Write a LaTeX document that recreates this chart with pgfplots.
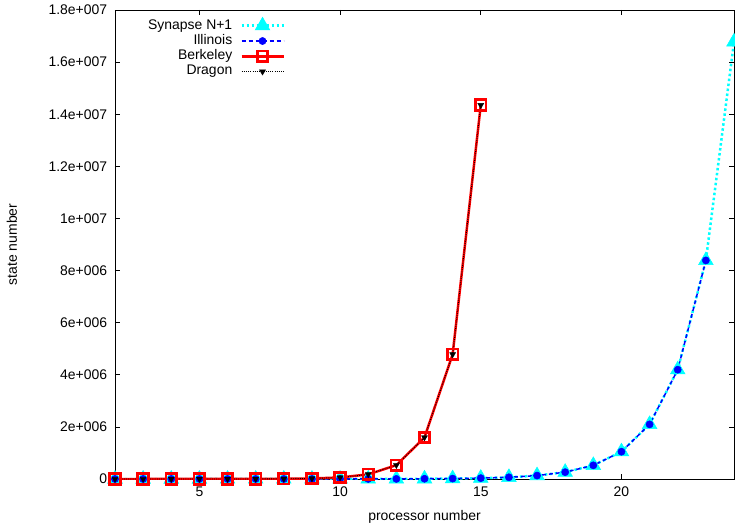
\documentclass[border=0pt]{standalone}
\usepackage{fontspec}
\setmainfont{Liberation Sans}
\usepackage{pgfplots}
\pgfplotsset{compat=1.18}
\definecolor{cy}{RGB}{0,255,255}
\definecolor{bl}{RGB}{0,0,255}
\definecolor{rd}{RGB}{255,0,0}
\begin{document}
\fontsize{14}{16.8}\selectfont
\begin{tikzpicture}
\begin{axis}[
  scale only axis, width=619bp, height=469bp,
  xmin=2, xmax=24, ymin=0, ymax=1.8e7,
  xtick={5,10,15,20}, xticklabels={5,10,15,20},
  ytick={0,2e6,4e6,6e6,8e6,1e7,1.2e7,1.4e7,1.6e7,1.8e7},
  yticklabels={0,2e+006,4e+006,6e+006,8e+006,1e+007,1.2e+007,1.4e+007,1.6e+007,1.8e+007},
  scaled y ticks=false, scaled x ticks=false,
  tick align=inside, major tick length=5bp, tick style={black, line width=0.6bp},
  axis line style={line width=0.8bp},
  xlabel={processor number}, ylabel={state number},
  xlabel style={at={(axis description cs:0.5,-0.081)}, anchor=center},
  ylabel style={at={(axis description cs:-0.1664,0.5)}, anchor=center, rotate=0},
  yticklabel style={xshift=-3bp},
  xticklabel style={yshift=-3bp},
  legend cell align=right, legend plot pos=right,
  legend style={draw=none, fill=none, at={(axis description cs:0.2746,0.985)}, anchor=north east,
    row sep=0pt, inner sep=0pt, nodes={inner sep=1bp, text height=10bp, text depth=3.3bp}},
  legend image code/.code={\path (0bp,0bp); \draw[mark repeat=2,mark phase=2] plot coordinates {(7bp,0bp)(28bp,0bp)(49bp,0bp)};},
]
\coordinate (sw) at (rel axis cs:0,0);
\coordinate (ne) at (rel axis cs:1,1);
\addplot[cy, line width=2.5bp, dash pattern=on 2.5bp off 2.5bp, mark=triangle*, mark size=8.5bp, mark options={solid, fill=cy, line width=0.5bp}] coordinates {
(2,4)(3,8)(4,16)(5,32)(6,64)(7,128)(8,256)(9,512)(10,1024)(11,2048)(12,4096)(13,8192)(14,16384)(15,32768)(16,65536)(17,131072)(18,262144)(19,524288)(20,1048576)(21,2097152)(22,4194304)(23,8388608)(24,16777216)};
\addlegendentry{Synapse N+1}
\addplot[bl, line width=1.5bp, dash pattern=on 4bp off 3bp, mark=*, mark size=3.6bp, mark options={solid, fill=bl, line width=0.5bp}] coordinates {
(2,4)(3,8)(4,16)(5,32)(6,64)(7,128)(8,256)(9,512)(10,1024)(11,2048)(12,4096)(13,8192)(14,16384)(15,32768)(16,65536)(17,131072)(18,262144)(19,524288)(20,1048576)(21,2097152)(22,4194304)(23,8388608)};
\addlegendentry{Illinois}
\addplot[rd, line width=2.5bp, mark=square, mark size=5.3bp, mark options={solid, line width=2.7bp}] coordinates {
(2,9)(3,27)(4,81)(5,243)(6,729)(7,2187)(8,6561)(9,19683)(10,59049)(11,177147)(12,531441)(13,1594323)(14,4782969)(15,14348907)};
\addlegendentry{Berkeley}
\addplot[black, line width=0.9bp, dash pattern=on 1bp off 1.2bp, mark=triangle*, mark size=3.5bp, mark options={solid, rotate=180, fill=black, line width=0.3bp}] coordinates {
(2,9)(3,27)(4,81)(5,243)(6,729)(7,2187)(8,6561)(9,19683)(10,59049)(11,177147)(12,531441)(13,1594323)(14,4782969)(15,14348907)};
\addlegendentry{Dragon}
\end{axis}
\pgfresetboundingbox
\path ([shift={(-115bp,-50bp)}]sw) rectangle ([shift={(1bp,10bp)}]ne);
\end{tikzpicture}
\end{document}
